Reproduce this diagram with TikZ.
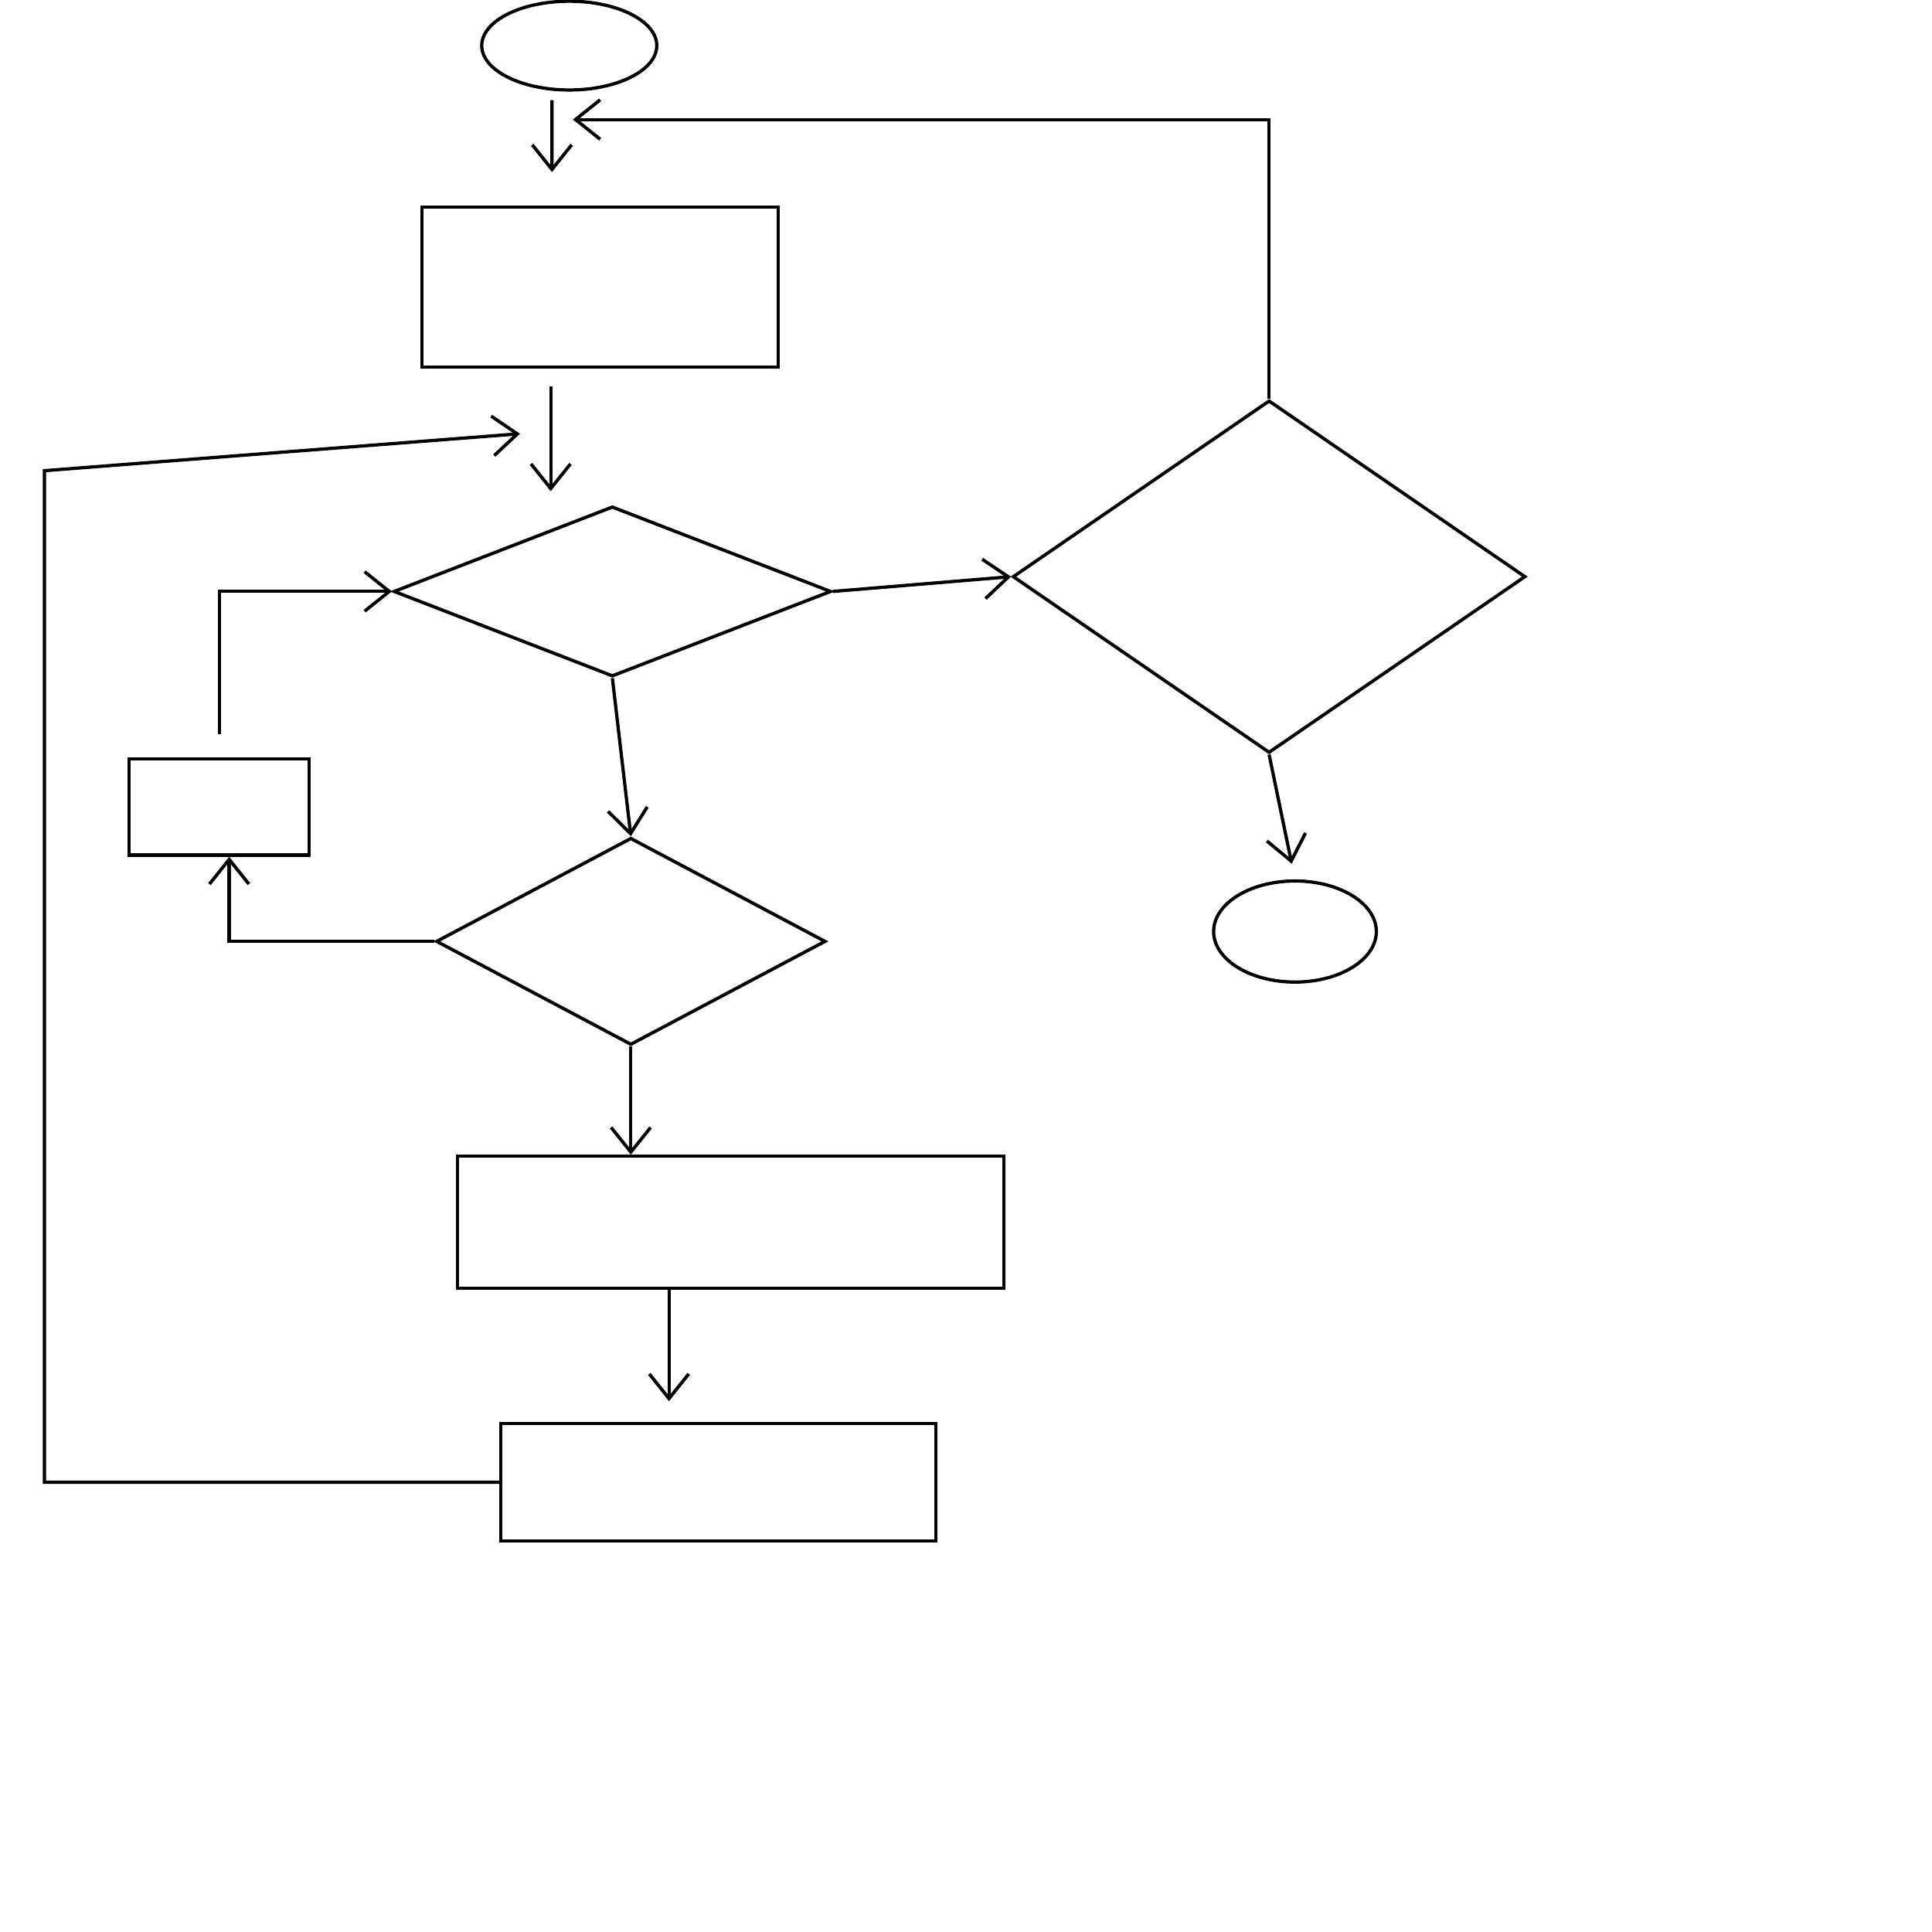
\documentclass[tikz,border=0pt]{standalone}
\usetikzlibrary{arrows.meta,shapes.geometric}

\tikzset{
  caixa/.style={draw, rectangle, inner sep=0pt},
  losango/.style={draw, diamond, inner sep=0pt},
  oval/.style={draw, ellipse, inner sep=0pt},
  seta/.style={-{Straight Barb[length=2mm,width=3.2mm]}}
}

\begin{document}
\begin{tikzpicture}[x=0.01cm,y=-0.01cm,line width=0.75pt]
  \useasboundingbox (0,0) rectangle (1568,1568);

  % Blocos do fluxo principal.
  \node[oval, minimum width=1.42cm, minimum height=0.72cm] (start) at (462,37) {};
  \node[caixa, minimum width=2.89cm, minimum height=1.30cm] (init) at (487,233) {};
  \node[losango, minimum width=3.55cm, minimum height=1.38cm] (check) at (497,480) {};
  \node[losango, minimum width=3.16cm, minimum height=1.68cm] (test) at (512,764) {};
  \node[caixa, minimum width=1.46cm, minimum height=0.78cm] (fix) at (178,655) {};
  \node[caixa, minimum width=4.43cm, minimum height=1.07cm] (store) at (593,992) {};
  \node[caixa, minimum width=3.53cm, minimum height=0.95cm] (next) at (583,1203) {};
  \node[losango, minimum width=4.16cm, minimum height=2.86cm] (decide) at (1030,468) {};
  \node[oval, minimum width=1.32cm, minimum height=0.82cm] (stop) at (1051,756) {};

  % Pontos de chegada dos retornos.
  \coordinate (topin) at (465,97);
  \coordinate (laco) at (36,382);
  \coordinate (rin) at (422,352);

  % Ligacoes.
  \draw[seta, shorten <=0.07cm, shorten >=0.27cm]
    ([xshift=-0.14cm]start.south) -- ([xshift=-0.39cm]init.north);
  \draw[seta, shorten <=0.14cm, shorten >=0.11cm]
    ([xshift=-0.40cm]init.south) -- ([xshift=-0.40cm]init.south |- check.north);
  \draw[seta] (check.east) -- (decide.west);
  \draw[seta] (check.south) -- (test.north);
  \draw[seta] (test.west) -| ([xshift=0.08cm]fix.south);
  \draw[seta, shorten <=0.19cm] (fix.north) |- (check.west);
  \draw[seta] (test.south) -- (test.south |- store.north);
  \draw[seta, shorten >=0.17cm]
    ([xshift=-0.50cm]store.south) -- ([xshift=-0.50cm]store.south |- next.north);
  \draw[seta, shorten >=0.13cm] (decide.south) -- (stop.north);

  % Retornos.
  \draw[seta] (decide.north) |- (topin);
  \draw[seta] (next.west) -| (laco) -- (rin);
\end{tikzpicture}
\end{document}
